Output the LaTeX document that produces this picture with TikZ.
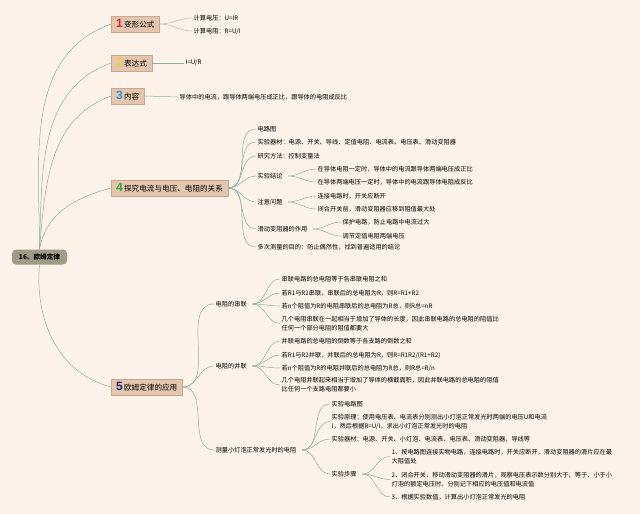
\documentclass[tikz,border=0pt]{standalone}
\usepackage{fontspec}
\setmainfont{Noto Sans CJK SC}
\newfontfamily\numfont{Liberation Sans}
\usetikzlibrary{positioning}

\definecolor{bgcol}{HTML}{FDF3EA}
\definecolor{boxfill}{HTML}{E4C6AF}
\definecolor{boxline}{HTML}{C9A78E}
\definecolor{rootfill}{HTML}{9E9C86}
\definecolor{linkcol}{HTML}{8FB19C}
\definecolor{tancol}{HTML}{D3B79F}
\definecolor{numa}{HTML}{E0242E}
\definecolor{numb}{HTML}{EFCF3C}
\definecolor{numc}{HTML}{2C96D6}
\definecolor{numd}{HTML}{2FA62F}
\definecolor{nume}{HTML}{25287A}

\newcommand{\bnum}[2]{{\numfont\bfseries\fontsize{12}{12}\selectfont\color{#1}#2}\,}

\begin{document}
\begin{tikzpicture}[x=1pt, y=-1pt,
  root/.style={rounded corners=4pt, fill=rootfill, minimum width=55pt, minimum height=15pt,
    inner sep=1pt, font=\fontsize{6.6}{8}\selectfont\bfseries},
  box/.style={draw=boxline, fill=boxfill, anchor=west, minimum height=16pt,
    inner xsep=5pt, inner ysep=1pt, font=\fontsize{7.6}{9}\selectfont},
  leaf/.style={anchor=west, inner sep=1.5pt, align=left, font=\fontsize{6.2}{9}\selectfont},
  link/.style={draw=linkcol, line width=0.5pt},
  tanlink/.style={draw=tancol, line width=0.5pt}]

\fill[bgcol] (0,0) rectangle (640,514);
\useasboundingbox (0,0) rectangle (640,514);

% root and main branches
\node (root) at (39.5,257) [root] {16、欧姆定律};
\node (b1) at (111,24)  [box] {\bnum{numa}{1}变形公式};
\node (b2) at (111,63)  [box] {\bnum{numb}{2}表达式};
\node (b3) at (111,96)  [box] {\bnum{numc}{3}内容};
\node (b4) at (111,188) [box] {\bnum{numd}{4}探究电流与电压、电阻的关系};
\node (b5) at (111,387) [box] {\bnum{nume}{5}欧姆定律的应用};

\draw[link] (root.north) to [out=90, in=200] (b1.west);
\draw[link] (root.north) to [out=88, in=200] (b2.west);
\draw[link] (root.north) to [out=85, in=200] (b3.west);
\draw[link] (root.north) to [out=80, in=195] (b4.west);
\draw[link] (root.south) to [out=-95, in=165] (b5.west);

% 1
\node (c11) at (192,18) [leaf] {计算电压：U=IR};
\node (c12) at (192,31) [leaf] {计算电阻：R=U/I};
\draw[tanlink] (b1.east) to [out=0, in=180] (c11.west);
\draw[tanlink] (b1.east) to [out=0, in=180] (c12.west);

% 2
\node (c21) at (184,63) [leaf] {I=U/R};
\draw[link] (b2.east) -- (c21.west);

% 3
\node (c31) at (178,97) [leaf] {导体中的电流，跟导体两端电压成正比，跟导体的电阻成反比};
\draw[link] (b3.east) -- (c31.west);

% 4
\node (c41) at (256,129) [leaf] {电路图};
\node (c42) at (256,142) [leaf] {实验器材：电源、开关、导线、定值电阻、电流表、电压表、滑动变阻器};
\node (c43) at (256,156) [leaf] {研究方法：控制变量法};
\node (c44) at (256,176) [leaf] {实验结论};
\node (c45) at (256,202) [leaf] {注意问题};
\node (c46) at (256,229) [leaf] {滑动变阻器的作用};
\node (c47) at (256,247) [leaf] {多次测量的目的：防止偶然性，找到普遍适用的结论};
\foreach \n in {c41,c42,c43,c44,c45,c46,c47}
  \draw[link] (b4.east) to [out=0, in=180] (\n.west);

\node (d441) at (316,169) [leaf] {在导体电阻一定时，导体中的电流跟导体两端电压成正比};
\node (d442) at (316,182) [leaf] {在导体两端电压一定时，导体中的电流跟导体电阻成反比};
\node (d451) at (316,196) [leaf] {连接电路时，开关应断开};
\node (d452) at (316,209) [leaf] {闭合开关前，滑动变阻器应移到阻值最大处};
\node (d461) at (341,222) [leaf] {保护电路，防止电路中电流过大};
\node (d462) at (341,236) [leaf] {调节定值电阻两端电压};
\draw[link] ([xshift=4pt]c44.east) to [out=0, in=180] (d441.west);
\draw[link] ([xshift=4pt]c44.east) to [out=0, in=180] (d442.west);
\draw[link] ([xshift=4pt]c45.east) to [out=0, in=180] (d451.west);
\draw[link] ([xshift=4pt]c45.east) to [out=0, in=180] (d452.west);
\draw[link] ([xshift=4pt]c46.east) to [out=0, in=180] (d461.west);
\draw[link] ([xshift=4pt]c46.east) to [out=0, in=180] (d462.west);

% 5
\node (c51) at (214,304) [leaf] {电阻的串联};
\node (c52) at (214,366) [leaf] {电阻的并联};
\node (c53) at (214,450) [leaf] {测量小灯泡正常发光时的电阻};
\foreach \n in {c51,c52,c53}
  \draw[link] (b5.east) to [out=0, in=180] (\n.west);

\node (d511) at (280,279) [leaf] {串联电路的总电阻等于各串联电阻之和};
\node (d512) at (280,293) [leaf] {若R1与R2串联，串联后的总电阻为R，则R=R1+R2};
\node (d513) at (280,306) [leaf] {若n个阻值为R的电阻串联后的总电阻为R总，则R总=nR};
\node (d514) at (280,323.5) [leaf] {几个电阻串联在一起相当于增加了导体的长度，因此串联电路的总电阻的阻值比\\任何一个部分电阻的阻值都要大};
\foreach \n in {d511,d512,d513,d514}
  \draw[link] ([xshift=4pt]c51.east) to [out=0, in=180] (\n.west);

\node (d521) at (280,341) [leaf] {并联电路的总电阻的倒数等于各支路的倒数之和};
\node (d522) at (280,355) [leaf] {若R1与R2并联，并联后的总电阻为R，则R=R1R2/(R1+R2)};
\node (d523) at (280,368) [leaf] {若n个阻值为R的电阻并联后的总电阻为R总，则R总=R/n};
\node (d524) at (280,385) [leaf] {几个电阻并联起来相当于增加了导体的横截面积，因此并联电路的总电阻的阻值\\比任何一个支路电阻都要小};
\foreach \n in {d521,d522,d523,d524}
  \draw[link] ([xshift=4pt]c52.east) to [out=0, in=180] (\n.west);

\node (d531) at (330,404) [leaf] {实验电路图};
\node (d532) at (330,421.5) [leaf] {实验原理：使用电压表、电流表分别测出小灯泡正常发光时两端的电压U和电流\\I，然后根据R=U/I，求出小灯泡正常发光时的电阻};
\node (d533) at (330,439) [leaf] {实验器材：电源、开关、小灯泡、电流表、电压表、滑动变阻器、导线等};
\node (d534) at (330,474) [leaf] {实验步骤};
\foreach \n in {d531,d532,d533,d534}
  \draw[link] ([xshift=4pt]c53.east) to [out=0, in=180] (\n.west);

\node (e1) at (390,456.5) [leaf] {1、按电路图连接实物电路，连接电路时，开关应断开，滑动变阻器的滑片应在最\\大阻值处};
\node (e2) at (390,479.5) [leaf] {2、闭合开关，移动滑动变阻器的滑片，观察电压表示数分别大于、等于、小于小\\灯泡的额定电压时，分别记下相应的电压值和电流值};
\node (e3) at (390,497) [leaf] {3、根据实验数值，计算出小灯泡正常发光的电阻};
\foreach \n in {e1,e2,e3}
  \draw[link] ([xshift=4pt]d534.east) to [out=0, in=180] (\n.west);
\end{tikzpicture}
\end{document}
